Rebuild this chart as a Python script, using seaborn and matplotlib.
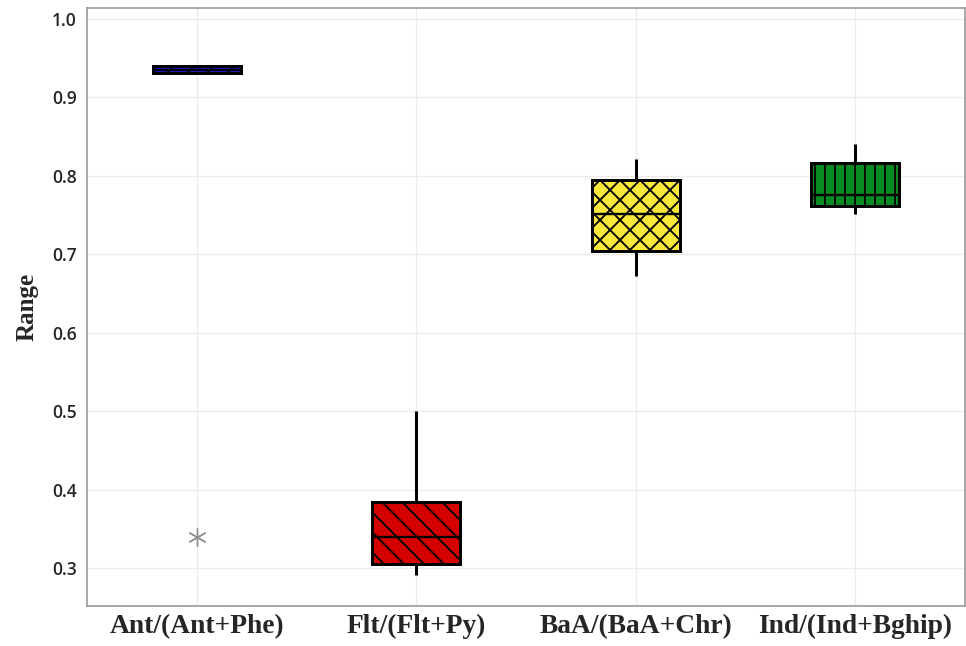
import numpy as np
import pandas as pd
import seaborn as sns
import matplotlib.pyplot as plt

# Ratio values per diagnostic ratio (points chosen to reproduce the boxes)
categories = ["Ant/(Ant+Phe)", "Flt/(Flt+Py)", "BaA/(BaA+Chr)", "Ind/(Ind+Bghip)"]
ant_phe = [0.34, 0.931, 0.931, 0.933, 0.935, 0.937, 0.940, 0.940, 0.940]
flt_py = [0.291, 0.305, 0.340, 0.384, 0.500]
baa_chr = [0.672, 0.704, 0.751, 0.795, 0.821]
ind_bghip = [0.751, 0.761, 0.776, 0.816, 0.840]
colors = ["#1c1ce8", "#d40000", "#fbe63c", "#088a22"]
hatches = ["//", "\\\\", "xx", "||"]

df = pd.DataFrame({
    "ratio": np.repeat(categories, [len(ant_phe), len(flt_py), len(baa_chr), len(ind_bghip)]),
    "value": ant_phe + flt_py + baa_chr + ind_bghip,
})

sns.set_style("white")
plt.rcParams["hatch.linewidth"] = 1.1
plt.rcParams["hatch.color"] = "black"

fig, ax = plt.subplots(figsize=(966 / 120, 646 / 120), dpi=120)
fig.subplots_adjust(left=0.090, right=0.999, bottom=0.062, top=0.988)

sns.boxplot(data=df, x="ratio", y="value", hue="ratio", palette=colors, legend=False,
            saturation=1, width=0.4, whis=1.5, linewidth=1.8, linecolor="black",
            showcaps=False, medianprops=dict(linewidth=1.4),
            flierprops=dict(marker=(6, 2, 0), markersize=11, markeredgecolor="#8c8c8c",
                            markeredgewidth=0.8), ax=ax)

for patch, h in zip(ax.patches, hatches):
    patch.set_hatch(h)
    patch.set_edgecolor("black")

ax.set_xlim(-0.5, 3.5)
ax.set_ylim(0.252, 1.014)
ax.set_yticks([0.3, 0.4, 0.5, 0.6, 0.7, 0.8, 0.9, 1.0])
ax.set_yticklabels([f"{t:.1f}" for t in ax.get_yticks()], fontfamily="Open Sans",
                   fontweight="semibold", fontsize=10.5)
ax.set_xticks(range(4))
ax.set_xticklabels(categories, fontfamily="Liberation Serif", fontweight="bold", fontsize=16.5)
ax.grid(True, color="#ececec", linewidth=0.8)
ax.set_axisbelow(True)
ax.tick_params(axis="y", length=3, color="#999999", pad=3)
ax.tick_params(axis="x", length=0, pad=5)
for s in ax.spines.values():
    s.set_color("#999999")
    s.set_linewidth(1.0)
ax.set_xlabel("")
ax.set_ylabel("Range", fontfamily="Liberation Serif", fontweight="bold", fontsize=15, labelpad=8)

fig.savefig("out.png", dpi=120)
